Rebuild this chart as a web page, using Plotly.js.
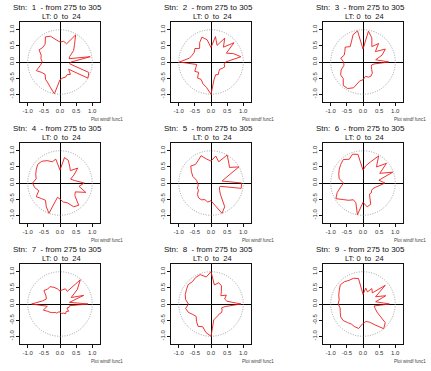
<!DOCTYPE html>
<html><head><meta charset="utf-8">
<script src="https://cdn.plot.ly/plotly-3.0.1.min.js"></script>
<style>html,body{margin:0;padding:0;background:#fff}#c{width:431px;height:371px}</style>
</head><body><div id="c"></div>
<script>
// Direction (degrees, counter-clockwise from east) and normalised radius per station
const angles = [0,10,20,30,40,50,60,70,80,90,100,110,120,130,140,150,160,170,180,190,200,210,220,230,240,250,260,270,280,290,300,310,320,330,340,350];
const stn1 = [0.35,0.95,0.3,0.35,0.55,0.7,0.97,0.6,0.65,0.62,0.7,0.85,0.9,0.72,0.7,0.75,0.62,0.6,0.55,0.62,0.78,0.65,0.6,0.7,0.75,0.85,1.0,0.55,0.5,0.5,0.45,0.5,0.35,1.0,0.95,0.3];
const stn2 = [0.45,0.94,0.75,0.55,0.93,0.6,0.85,0.55,0.8,0.45,0.7,0.82,0.7,0.55,0.65,0.6,0.62,0.68,0.98,0.45,0.5,0.58,0.5,0.65,0.62,0.72,0.8,1.0,0.55,0.42,0.45,0.38,0.35,0.4,0.45,0.42];
const stn3 = [0.8,0.4,0.63,0.8,0.5,0.75,0.55,0.8,0.97,0.4,0.98,0.9,0.72,0.62,0.72,0.65,0.62,0.7,0.6,0.6,0.72,0.8,0.8,0.95,0.95,0.85,0.6,0.55,0.45,0.5,0.5,0.45,0.35,0.3,0.28,0.35];
const stn4 = [0.75,0.45,0.35,0.5,0.72,0.5,0.6,0.75,0.8,0.4,0.75,0.7,0.8,0.88,0.9,0.85,0.8,0.75,0.85,0.8,0.7,0.85,0.75,0.7,0.85,1.0,0.45,0.5,0.6,0.65,0.85,0.9,0.6,0.55,0.85,0.6];
const stn5 = [0.95,0.35,0.5,1.0,0.75,0.85,1.0,0.7,0.85,0.68,0.75,0.9,0.8,0.75,0.82,0.7,0.6,0.45,0.42,0.4,0.45,0.45,0.55,0.6,0.6,0.55,0.6,0.55,0.7,1.0,0.85,0.45,0.35,0.3,0.3,0.95];
const stn6 = [0.68,0.5,0.98,0.6,0.95,0.65,0.97,0.7,0.55,0.4,0.9,0.95,0.85,0.95,0.9,0.85,0.8,0.75,0.6,0.7,0.85,0.97,0.8,0.7,0.6,0.65,1.0,0.6,0.75,0.7,0.4,0.4,0.35,0.35,0.4,0.5];
const stn7 = [0.87,0.3,0.78,0.4,0.7,0.98,0.45,0.5,0.45,0.4,0.48,0.55,0.62,0.6,0.65,0.5,0.45,0.55,0.88,0.4,0.55,0.45,0.4,0.35,0.3,0.3,0.25,0.25,0.3,0.3,0.35,0.3,0.35,0.25,0.3,0.3];
const stn8 = [0.93,0.5,0.45,0.55,0.4,0.5,0.65,0.7,0.6,1.0,0.85,0.97,0.95,0.9,0.93,0.88,0.85,0.8,0.7,0.8,0.75,0.65,0.6,0.7,0.8,0.75,0.9,1.0,0.5,0.45,0.42,0.4,0.42,0.4,0.35,0.45];
const stn9 = [0.82,0.4,0.75,0.45,0.9,0.45,0.55,0.4,0.5,0.3,0.8,0.85,0.85,0.9,0.92,0.85,0.8,0.75,0.77,0.72,0.75,0.8,0.8,0.75,0.72,0.75,0.77,0.6,0.55,0.6,0.75,1.0,0.9,0.5,0.4,0.35];
const stations = [stn1,stn2,stn3,stn4,stn5,stn6,stn7,stn8,stn9];
const stnLabels = ['1','2','3','4','5','6','7','8','9'];
const tickVals = [-1,-0.5,0,0.5,1];
const tickText = ['-1.0','-0.5','0.0','0.5','1.0'];
const titleLine1 = 'Stn:  %s  - from 275 to 305';
const titleLine2 = 'LT: 0  to  24';
const footText = 'Plot windf func1';

const W = 431, H = 371;
const cxs = [60, 211, 363], cys = [62, 183, 304], half = 40, R = 1.24;
const FONT = 'Liberation Sans, Arial, sans-serif';

const data = [], annotations = [], shapes = [];
const layout = {width: W, height: H, margin: {l:0, r:0, t:0, b:0}, showlegend: false,
  paper_bgcolor: '#fff', plot_bgcolor: 'rgba(0,0,0,0)', font: {family: FONT}};

stations.forEach((rs, i) => {
  const col = i % 3, row = Math.floor(i / 3);
  const cx = cxs[col], cy = cys[row];
  const n = i === 0 ? '' : String(i + 1);
  const xd = [(cx - half) / W, (cx + half) / W];
  const yd = [1 - (cy + half) / H, 1 - (cy - half) / H];
  const axCommon = {range: [-R, R], showgrid: false, zeroline: true, zerolinecolor: '#000', zerolinewidth: 1,
    showline: true, mirror: true, linecolor: '#111', linewidth: 1, ticks: 'outside', ticklen: 3, tickwidth: 1,
    tickcolor: '#111', tickmode: 'array', tickvals: tickVals, ticktext: tickText,
    tickfont: {size: 6, color: '#333', family: FONT}, fixedrange: true};
  layout['xaxis' + n] = Object.assign({}, axCommon, {domain: xd, anchor: 'y' + n});
  layout['yaxis' + n] = Object.assign({}, axCommon, {domain: yd, anchor: 'x' + n, tickangle: -90});
  layout['polar' + n] = {domain: {x: xd, y: yd}, bgcolor: 'rgba(0,0,0,0)',
    radialaxis: {range: [0, R], visible: false}, angularaxis: {visible: false, rotation: 0, direction: 'counterclockwise'}};
  data.push({type: 'scatter', x: [], y: [], xaxis: 'x' + n, yaxis: 'y' + n, hoverinfo: 'skip'});
  data.push({type: 'scatterpolar', subplot: 'polar' + n, mode: 'lines',
    r: rs.concat([rs[0]]), theta: angles.concat([angles[0]]),
    line: {color: '#ee1c1c', width: 0.9}, hoverinfo: 'skip'});
  shapes.push({type: 'circle', xref: 'x' + n, yref: 'y' + n, x0: -1, x1: 1, y0: -1, y1: 1,
    line: {color: '#888', width: 0.8, dash: '1px,1.5px'}});
  annotations.push({xref: 'paper', yref: 'paper', x: (cx - 2.5) / W, y: 1 - (cy - 54.5) / H,
    text: titleLine1.replace('%s', stnLabels[i]), showarrow: false, xanchor: 'center', yanchor: 'middle',
    borderpad: 0, font: {size: 8, color: '#111', family: FONT}});
  annotations.push({xref: 'paper', yref: 'paper', x: (cx + 1) / W, y: 1 - (cy - 45.5) / H,
    text: titleLine2, showarrow: false, xanchor: 'center', yanchor: 'middle',
    borderpad: 0, font: {size: 7.5, color: '#111', family: FONT}});
  annotations.push({xref: 'paper', yref: 'paper', x: (cx + 30) / W, y: 1 - (cy + 57.5) / H,
    text: footText, showarrow: false, xanchor: 'left', yanchor: 'middle',
    borderpad: 0, font: {size: 4.5, color: '#444', family: FONT}});
});
layout.annotations = annotations;
layout.shapes = shapes;
Plotly.newPlot('c', data, layout, {staticPlot: true, displayModeBar: false});
</script></body></html>
